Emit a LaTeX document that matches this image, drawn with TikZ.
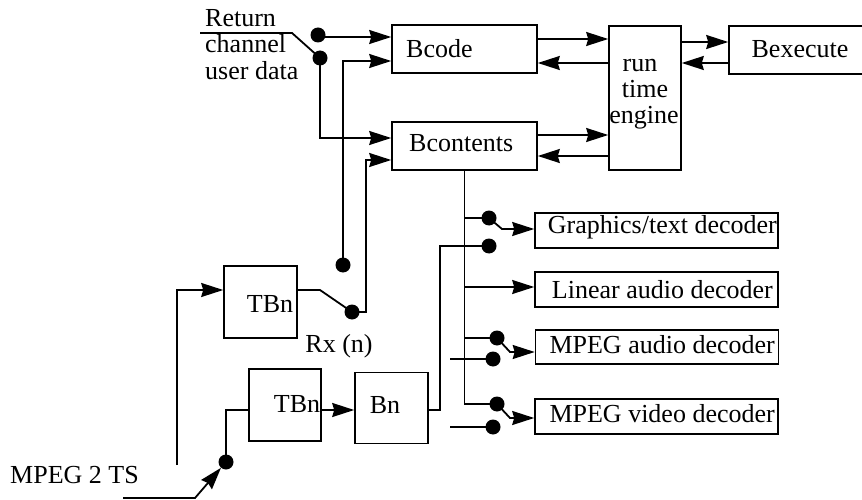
\documentclass[tikz,border=0pt]{standalone}
\usepackage{fontspec}
\setmainfont{Liberation Serif}
\usetikzlibrary{arrows.meta,calc}
\begin{document}
\begin{tikzpicture}[x=1pt,y=-1pt,
  every node/.style={font=\fontsize{26}{26}\selectfont},
  ln/.style={line width=1.8pt},
  arr/.style={ln,-{Stealth[length=22pt,width=14pt,inset=2pt]}},
  blk/.style={draw,line width=1.6pt,inner sep=0pt},
  lbl/.style={inner sep=0pt},
  dot/.style={circle,fill,inner sep=0pt,minimum size=15pt}
]
\useasboundingbox (0,0) rectangle (862,500);

% boxes
\node[blk,minimum width=145pt,minimum height=48pt] (bcode) at (464.5,49) {};
\node[blk,minimum width=145pt,minimum height=48pt] (bcont) at (464.5,146) {};
\node[blk,minimum width=72pt,minimum height=144pt] (eng) at (645,98) {};
\node[blk,minimum width=145pt,minimum height=48pt] (bexe) at (801.5,50) {};
\node[blk,minimum width=73pt,minimum height=72pt] (tb1) at (260.5,302) {};
\node[blk,minimum width=72pt,minimum height=72pt] (tb2) at (285,405) {};
\node[blk,minimum width=73pt,minimum height=71pt] (bn) at (391.5,408) {};
\node[blk,minimum width=243pt,minimum height=35pt] (gfx) at (656.5,230.5) {};
\node[blk,minimum width=243pt,minimum height=35pt] (lin) at (656.5,289.5) {};
\node[blk,minimum width=243pt,minimum height=34pt] (mpa) at (657,347) {};
\node[blk,minimum width=243pt,minimum height=35pt] (mpv) at (656.5,416.5) {};

% texts
\node[lbl,anchor=base west] (t1) at (205,27) {Return};
\node[lbl,anchor=base west] (t2) at (205,53) {channel};
\node[lbl,anchor=base west] (t3) at (205,80) {user data};
\node[lbl,anchor=base west] (tbcode) at (406,58) {Bcode};
\node[lbl,anchor=base west] (tbcont) at (409,152) {Bcontents};
\node[lbl,anchor=base] (te1) at (640,72) {run};
\node[lbl,anchor=base] (te2) at (645,98) {time};
\node[lbl,anchor=base] (te3) at (644,124) {engine};
\node[lbl,anchor=base] (tbexe) at (800,58) {Bexecute};
\node[lbl,anchor=base] (ttb1) at (270,312) {TBn};
\node[lbl,anchor=base] (ttb2) at (297,412) {TBn};
\node[lbl,anchor=base] (tbn) at (385,413) {Bn};
\node[lbl,anchor=base] (trx) at (339,352) {Rx (n)};
\node[lbl,anchor=base west] (tts) at (10,483) {MPEG 2 TS};
\node[lbl,anchor=base east] (tgfx) at (777,233) {Graphics/text decoder};
\node[lbl,anchor=base east] (tlin) at (773,298) {Linear audio decoder};
\node[lbl,anchor=base east] (tmpa) at (775,353) {MPEG audio decoder};
\node[lbl,anchor=base east] (tmpv) at (775,422) {MPEG video decoder};

% dots
\node[dot] (rc1) at (318,35) {};
\node[dot] (rc2) at (320,58) {};
\node[dot] (rx1) at (343,265) {};
\node[dot] (rx2) at (352,312) {};
\node[dot] (ts) at (226,462) {};
\node[dot] (g1) at (489,218) {};
\node[dot] (g2) at (489,246) {};
\node[dot] (a1) at (497,338) {};
\node[dot] (a2) at (493,359) {};
\node[dot] (v1) at (497,404) {};
\node[dot] (v2) at (493,427) {};

% helper coordinates
\coordinate (retin) at (200,33);
\coordinate (retk) at (292,33);
\coordinate (rowrc1) at (0,37);
\coordinate (rowrx1) at (0,61);
\coordinate (rowrc2) at (0,138);
\coordinate (rowrx2) at (0,160);
\coordinate (rxk) at (320,290);
\coordinate (rxup) at (366,312);
\coordinate (rowtb1) at (0,290);
\coordinate (rowtb2) at (0,410);
\coordinate (tbin) at (177,465);
\coordinate (tsin) at (123,498);
\coordinate (tsk) at (195,498);
\coordinate (bnk) at (440,410);
\coordinate (rbe1) at (0,39);
\coordinate (rbe2) at (0,63);
\coordinate (rex1) at (0,42);
\coordinate (rce1) at (0,135);
\coordinate (rce2) at (0,156);
\coordinate (rowlin) at (0,287);
\coordinate (gk) at (502,229);
\coordinate (ak) at (510,352);
\coordinate (vk) at (510,418);
\coordinate (ain) at (450,359);
\coordinate (vin) at (450,427);

% return channel
\draw[ln] (retin) -- (retk) -- (rc2.center);
\draw[arr] (rc1.center) |- (bcode.west |- rowrc1);
\draw[arr] (rc2.center) |- (bcont.west |- rowrc2);
\draw[arr] (rx1.center) |- (bcode.west |- rowrx1);
\draw[arr] (rx2.center) -- (rxup) |- (bcont.west |- rowrx2);
\draw[ln] (tb1.east |- rowtb1) -- (rxk) -- (rx2.center);
\draw[arr] (tbin) |- (tb1.west |- rowtb1);

% MPEG 2 TS
\draw[arr] (tsin) -- (tsk) -- (ts);
\draw[ln] (ts.center) |- (tb2.west |- rowtb2);
\draw[arr] (tb2.east |- rowtb2) -- (bn.west |- rowtb2);
\draw[ln] (bn.east |- rowtb2) -- (bnk) |- (g2.center);

% engine
\draw[arr] (bcode.east |- rbe1) -- (eng.west |- rbe1);
\draw[arr] (eng.west |- rbe2) -- (bcode.east |- rbe2);
\draw[arr] (eng.east |- rex1) -- (bexe.west |- rex1);
\draw[arr] (bexe.west |- rbe2) -- (eng.east |- rbe2);
\draw[arr] (bcont.east |- rce1) -- (eng.west |- rce1);
\draw[arr] (eng.west |- rce2) -- (bcont.east |- rce2);

% bus
\draw[ln] (bcont.south) |- (v1.center);
\draw[ln] (bcont.south |- g1) -- (g1.center);
\draw[arr] (bcont.south |- rowlin) -- (lin.west |- rowlin);
\draw[ln] (bcont.south |- a1) -- (a1.center);
\draw[arr] (g1.center) -- (gk) -- (gfx.west |- gk);
\draw[arr] (a1.center) -- (ak) -- (mpa.west |- ak);
\draw[arr] (v1.center) -- (vk) -- (mpv.west |- vk);
\draw[ln] (ain) -- (a2.center);
\draw[ln] (vin) -- (v2.center);
\end{tikzpicture}
\end{document}
